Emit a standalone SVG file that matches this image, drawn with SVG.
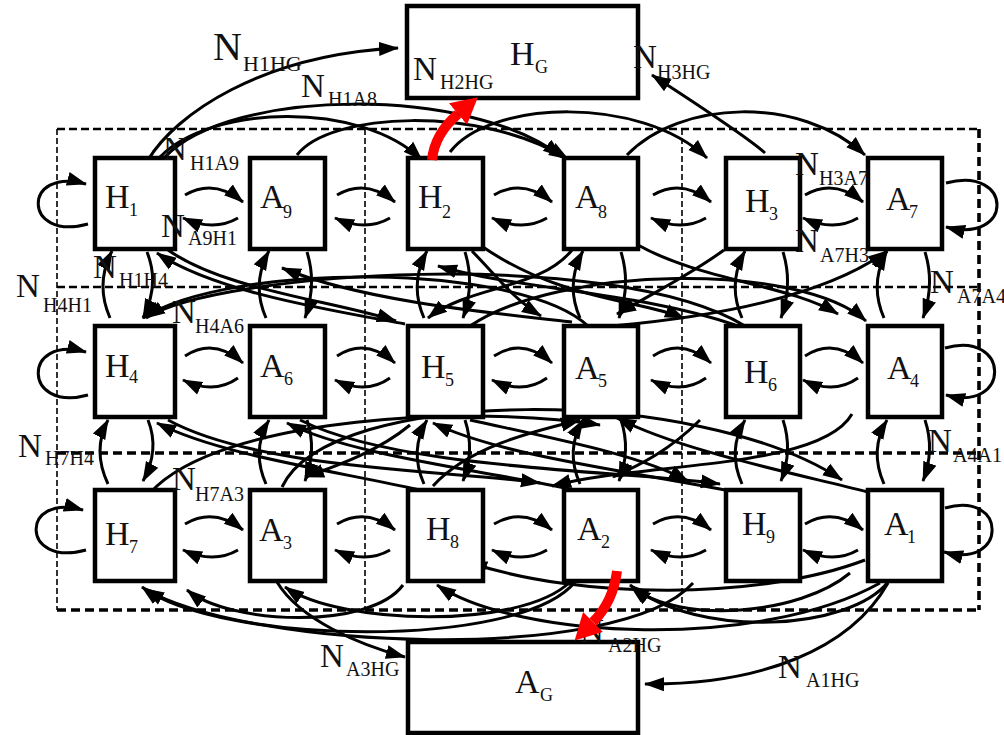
<svg xmlns="http://www.w3.org/2000/svg" width="1004" height="735" viewBox="0 0 1004 735">
  <defs>
    <marker id="ah" viewBox="0 0 20 16" refX="19" refY="8" markerWidth="20" markerHeight="16" markerUnits="userSpaceOnUse" orient="auto">
      <path d="M0,1 L20,8 L0,15 z" fill="#000"/>
    </marker>
    <marker id="rh" viewBox="0 0 26 28" refX="0" refY="14" markerWidth="26" markerHeight="28" markerUnits="userSpaceOnUse" orient="auto">
      <path d="M0,0 L26,14 L0,28 z" fill="#f00"/>
    </marker>
    <style>
      .grid { fill: none; stroke: #000; }
      .g-thin { stroke-width: 1.6; stroke-dasharray: 6 3; }
      .g-mid { stroke-width: 2.6; stroke-dasharray: 8 4; }
      .g-thick { stroke-width: 3.6; stroke-dasharray: 9 5; }
      .box { fill: #fff; stroke: #000; stroke-width: 4.5; }
      .edge path { fill: none; stroke: #000; stroke-width: 3; marker-end: url(#ah); }
      .red { fill: none; stroke: #f00; stroke-width: 10; marker-end: url(#rh); }
      .lbl { font-family: "Liberation Serif", "Times New Roman", serif; fill: #111; }
      .nm { font-size: 34px; }
      .ns { font-size: 18px; }
      .em { font-size: 33px; }
      .es { font-size: 20px; }
    </style>
  </defs>

  <!-- dashed partition grid -->
  <g id="grid">
    <line class="grid g-mid" x1="57" y1="129" x2="979" y2="129"/>
    <line class="grid g-mid" x1="57" y1="287" x2="979" y2="287"/>
    <line class="grid g-thick" x1="57" y1="453" x2="979" y2="453"/>
    <line class="grid g-thick" x1="57" y1="610" x2="979" y2="610"/>
    <line class="grid g-thin" x1="57" y1="129" x2="57" y2="610"/>
    <line class="grid g-thin" x1="365" y1="129" x2="365" y2="610"/>
    <line class="grid g-thin" x1="682" y1="129" x2="682" y2="610"/>
    <line class="grid g-thick" x1="979" y1="129" x2="979" y2="610"/>
  </g>

  <g id="connectors" class="edge">
    <!-- self loops -->
    <path d="M88,224 C22,242 22,166 86,184"/>
    <path d="M88,395 C22,413 22,334 86,352"/>
    <path d="M86,550 C20,568 20,492 83,510"/>
    <path d="M946,183 C1014,165 1014,245 946,227"/>
    <path d="M945,348 C1011,330 1011,413 946,395"/>
    <path d="M945,508 C1008,490 1008,570 944,552"/>

    <!-- row 1 neighbour pairs -->
    <path d="M185,195 Q214,178 243,202"/><path d="M238,218 Q214,232 183,218"/>
    <path d="M337,195 Q366,178 395,202"/><path d="M390,218 Q366,232 335,218"/>
    <path d="M494,195 Q523,178 552,202"/><path d="M547,218 Q523,232 492,218"/>
    <path d="M653,195 Q682,178 711,202"/><path d="M706,218 Q682,232 651,218"/>
    <path d="M805,195 Q834,178 863,202"/><path d="M858,218 Q834,232 803,218"/>
    <!-- row 2 neighbour pairs -->
    <path d="M185,356 Q214,337 243,363"/><path d="M238,378 Q214,395 183,380"/>
    <path d="M337,356 Q366,337 395,363"/><path d="M390,378 Q366,395 335,380"/>
    <path d="M494,356 Q523,337 552,363"/><path d="M547,378 Q523,395 492,380"/>
    <path d="M653,356 Q682,337 711,363"/><path d="M706,378 Q682,395 651,380"/>
    <path d="M805,356 Q834,337 863,363"/><path d="M858,378 Q834,395 803,380"/>
    <!-- row 3 neighbour pairs -->
    <path d="M185,524 Q214,507 243,530"/><path d="M238,550 Q214,564 183,550"/>
    <path d="M337,524 Q366,507 395,530"/><path d="M390,550 Q366,564 335,550"/>
    <path d="M494,524 Q523,507 552,530"/><path d="M547,550 Q523,564 492,550"/>
    <path d="M653,524 Q682,507 711,530"/><path d="M706,550 Q682,564 651,550"/>
    <path d="M805,524 Q834,507 863,530"/><path d="M858,550 Q834,564 803,550"/>

    <!-- vertical pairs, rows 1-2 -->
    <path d="M110,318 Q95,284 112,251"/><path d="M147,252 Q160,284 143,318"/>
    <path d="M266,318 Q251,284 269,251"/><path d="M307,252 Q317,284 305,318"/>
    <path d="M424,318 Q409,284 427,251"/><path d="M465,252 Q475,284 463,318"/>
    <path d="M580,318 Q565,284 583,251"/><path d="M621,252 Q631,284 619,318"/>
    <path d="M742,318 Q727,284 745,251"/><path d="M783,252 Q793,284 781,318"/>
    <path d="M884,318 Q869,284 887,251"/><path d="M925,252 Q935,284 923,318"/>
    <!-- vertical pairs, rows 2-3 -->
    <path d="M108,484 Q92,450 108,420"/><path d="M148,420 Q160,450 143,481"/>
    <path d="M266,484 Q251,450 269,420"/><path d="M307,420 Q317,450 305,481"/>
    <path d="M424,484 Q409,450 427,420"/><path d="M465,420 Q475,450 463,481"/>
    <path d="M580,484 Q565,450 583,420"/><path d="M621,420 Q631,450 619,481"/>
    <path d="M742,484 Q727,450 745,420"/><path d="M783,420 Q793,450 781,481"/>
    <path d="M884,484 Q869,450 887,420"/><path d="M925,420 Q935,450 923,481"/>

    <!-- links above row 1 -->
    <path d="M148,160 C175,115 260,55 398,48"/>
    <path d="M160,157 C210,105 360,100 422,160"/>
    <path d="M165,157 C230,88 470,85 562,157"/>
    <path d="M297,155 C330,112 480,105 568,159"/>
    <path d="M450,152 C490,100 640,95 707,158"/>
    <path d="M627,155 C680,100 800,95 865,155"/>
    <path d="M765,153 C745,135 690,100 652,75"/>

    <!-- long links between rows 1 and 2 -->
    <path d="M168,250 C225,290 330,300 396,321"/>
    <path d="M405,324 C330,310 215,292 157,253"/>
    <path d="M588,326 C520,262 230,262 143,318"/>
    <path d="M745,326 C610,245 215,272 146,318"/>
    <path d="M572,322 C480,312 360,300 282,268"/>
    <path d="M735,325 C640,292 520,290 438,266"/>
    <path d="M572,250 C540,290 470,285 428,318"/>
    <path d="M472,251 C500,280 515,300 541,316"/>
    <path d="M724,250 C690,275 650,295 617,314"/>
    <path d="M483,247 C560,300 640,300 684,318"/>
    <path d="M638,245 C700,280 790,285 838,314"/>
    <path d="M470,326 C560,265 800,262 866,321"/>
    <path d="M612,326 C700,318 820,300 887,251"/>

    <!-- long links between rows 2 and 3 -->
    <path d="M420,490 C330,470 220,455 157,423"/>
    <path d="M168,420 C260,470 450,470 540,483"/>
    <path d="M575,490 C480,470 350,455 287,423"/>
    <path d="M410,425 C380,450 340,465 305,477"/>
    <path d="M725,490 C620,470 500,455 433,423"/>
    <path d="M300,420 C400,470 620,470 720,484"/>
    <path d="M868,492 C780,470 680,450 617,418"/>
    <path d="M700,420 C670,450 640,465 613,477"/>
    <path d="M852,414 C820,470 640,462 552,486"/>
    <path d="M470,420 C560,440 640,455 688,481"/>
    <path d="M282,487 C330,385 700,385 842,480"/>
    <path d="M150,493 C220,415 480,405 600,425"/>
    <path d="M433,486 C470,445 540,430 580,420"/>

    <!-- links below row 3 -->
    <path d="M403,585 C370,630 230,625 187,590"/>
    <path d="M575,582 C520,650 220,645 142,587"/>
    <path d="M693,583 C620,665 250,650 145,589"/>
    <path d="M277,582 C300,620 360,645 405,657"/>
    <path d="M570,582 C520,630 340,625 285,587"/>
    <path d="M880,583 C760,650 520,640 437,585"/>
    <path d="M865,560 C760,600 580,600 468,562"/>
    <path d="M888,582 C850,630 700,640 630,585"/>
    <path d="M850,573 C800,615 680,625 632,587"/>
    <path d="M888,583 C850,650 760,685 645,684"/>
  </g>

  <!-- nodes -->
  <g id="HG"><rect class="box" x="407" y="6" width="231" height="92"/></g>
  <g id="AG"><rect class="box" x="408" y="642" width="230" height="91"/></g>
  <g id="H1"><rect class="box" x="95" y="158" width="80" height="91"/></g>
  <g id="A9"><rect class="box" x="250" y="158" width="75" height="91"/></g>
  <g id="H2"><rect class="box" x="408" y="158" width="75" height="91"/></g>
  <g id="A8"><rect class="box" x="564" y="158" width="74" height="91"/></g>
  <g id="H3"><rect class="box" x="726" y="158" width="74" height="91"/></g>
  <g id="A7"><rect class="box" x="868" y="158" width="74" height="91"/></g>
  <g id="H4"><rect class="box" x="95" y="326" width="80" height="91"/></g>
  <g id="A6"><rect class="box" x="250" y="326" width="75" height="91"/></g>
  <g id="H5"><rect class="box" x="408" y="326" width="75" height="91"/></g>
  <g id="A5"><rect class="box" x="564" y="326" width="74" height="91"/></g>
  <g id="H6"><rect class="box" x="726" y="326" width="74" height="91"/></g>
  <g id="A4"><rect class="box" x="868" y="326" width="74" height="91"/></g>
  <g id="H7"><rect class="box" x="95" y="490" width="80" height="91"/></g>
  <g id="A3"><rect class="box" x="250" y="490" width="75" height="91"/></g>
  <g id="H8"><rect class="box" x="408" y="490" width="75" height="91"/></g>
  <g id="A2"><rect class="box" x="564" y="490" width="74" height="91"/></g>
  <g id="H9"><rect class="box" x="726" y="490" width="74" height="91"/></g>
  <g id="A1"><rect class="box" x="868" y="490" width="74" height="91"/></g>

  <!-- node labels -->
  <g class="lbl">
    <text class="nm" x="510" y="65">H<tspan class="ns" x="535" y="73">G</tspan></text>
    <text class="nm" x="515" y="693">A<tspan class="ns" x="540" y="701">G</tspan></text>

    <text class="nm" x="105" y="208">H<tspan class="ns" x="129" y="216">1</tspan></text>
    <text class="nm" x="260" y="208">A<tspan class="ns" x="283" y="218">9</tspan></text>
    <text class="nm" x="418" y="208">H<tspan class="ns" x="442" y="218">2</tspan></text>
    <text class="nm" x="575" y="208">A<tspan class="ns" x="598" y="218">8</tspan></text>
    <text class="nm" x="745" y="212">H<tspan class="ns" x="769" y="220">3</tspan></text>
    <text class="nm" x="886" y="210">A<tspan class="ns" x="909" y="218">7</tspan></text>

    <text class="nm" x="105" y="377">H<tspan class="ns" x="129" y="383">4</tspan></text>
    <text class="nm" x="260" y="377">A<tspan class="ns" x="284" y="385">6</tspan></text>
    <text class="nm" x="421" y="378">H<tspan class="ns" x="445" y="386">5</tspan></text>
    <text class="nm" x="575" y="379">A<tspan class="ns" x="598" y="387">5</tspan></text>
    <text class="nm" x="744" y="383">H<tspan class="ns" x="768" y="391">6</tspan></text>
    <text class="nm" x="887" y="379">A<tspan class="ns" x="910" y="387">4</tspan></text>

    <text class="nm" x="105" y="545">H<tspan class="ns" x="129" y="553">7</tspan></text>
    <text class="nm" x="259" y="541">A<tspan class="ns" x="283" y="549">3</tspan></text>
    <text class="nm" x="426" y="540">H<tspan class="ns" x="450" y="548">8</tspan></text>
    <text class="nm" x="577" y="540">A<tspan class="ns" x="601" y="548">2</tspan></text>
    <text class="nm" x="742" y="535">H<tspan class="ns" x="766" y="543">9</tspan></text>
    <text class="nm" x="884" y="535">A<tspan class="ns" x="907" y="543">1</tspan></text>
  </g>

  <!-- connector labels -->
  <g class="lbl">
    <text font-size="40" x="213" y="60">N<tspan font-size="22" x="243" y="71">H1HG</tspan></text>
    <text class="em" x="413" y="80">N<tspan class="es" x="440" y="89">H2HG</tspan></text>
    <text class="em" x="633" y="68">N<tspan class="es" x="657" y="79">H3HG</tspan></text>
    <text class="em" x="301" y="97">N<tspan class="es" x="328" y="106">H1A8</tspan></text>
    <text class="em" x="163" y="160">N<tspan class="es" x="190" y="170">H1A9</tspan></text>
    <text class="em" x="161" y="237">N<tspan class="es" x="188" y="245">A9H1</tspan></text>
    <text class="em" x="93" y="278">N<tspan class="es" x="119" y="287">H1H4</tspan></text>
    <text class="em" x="16" y="297">N<tspan class="es" x="43" y="312">H4H1</tspan></text>
    <text class="em" x="172" y="323">N<tspan class="es" x="195" y="333">H4A6</tspan></text>
    <text class="em" x="18" y="457">N<tspan class="es" x="45" y="465">H7H4</tspan></text>
    <text class="em" x="172" y="490">N<tspan class="es" x="195" y="501">H7A3</tspan></text>
    <text class="em" x="320" y="667">N<tspan class="es" x="346" y="676">A3HG</tspan></text>
    <text class="em" x="580" y="642">N<tspan class="es" x="608" y="652">A2HG</tspan></text>
    <text class="em" x="778" y="678">N<tspan class="es" x="806" y="687">A1HG</tspan></text>
    <text class="em" x="795" y="175">N<tspan class="es" x="819" y="185">H3A7</tspan></text>
    <text class="em" x="795" y="252">N<tspan class="es" x="820" y="262">A7H3</tspan></text>
    <text class="em" x="930" y="293">N<tspan class="es" x="957" y="303">A7A4</tspan></text>
    <text class="em" x="928" y="452">N<tspan class="es" x="953" y="462">A4A1</tspan></text>
  </g>

  <!-- highlighted flows into the gateways -->
  <g id="highlight">
    <path class="red" d="M432,160 C434,140 445,125 458,114"/>
    <path class="red" d="M617,571 C614,595 605,610 593,622"/>
  </g>
</svg>
